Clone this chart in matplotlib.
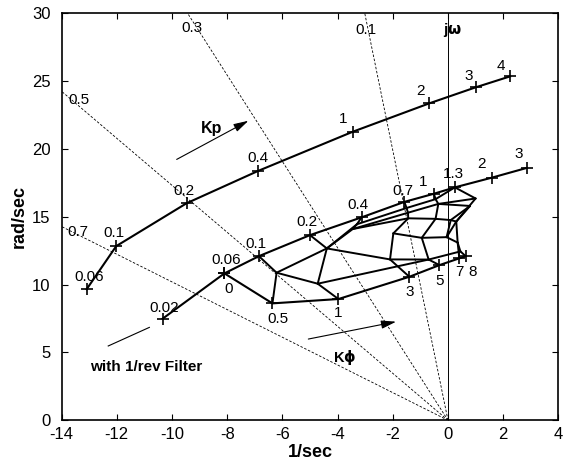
import numpy as np
import matplotlib
matplotlib.use('Agg')
import matplotlib.pyplot as plt

plt.rcParams['font.family'] = ['Liberation Sans', 'DejaVu Sans']
plt.rcParams['axes.unicode_minus'] = False

# constant damping ratio lines
zeta = [0.1, 0.3, 0.5, 0.7]
zeta_lbl_x = [-2.97, -9.29, -13.37, -13.4]
zeta_lbl_y = [28.8, 28.9, 23.6, 13.9]

# upper locus (Kp), no filter
kp1 = ['0.06', '0.1', '0.2', '0.4', '1', '2', '3', '4']
kp1_x = [-13.09, -12.02, -9.47, -6.87, -3.45, -0.68, 1.0, 2.25]
kp1_y = [9.67, 12.84, 16.0, 18.39, 21.27, 23.36, 24.54, 25.35]
kp1_lx = [-13.0, -12.1, -9.55, -6.9, -3.8, -1.0, 0.75, 1.9]
kp1_ly = [10.6, 13.8, 16.9, 19.3, 22.2, 24.3, 25.4, 26.1]

# lower locus (Kp), with 1/rev filter, Kphi = 0
kp2 = ['0.02', '0.06', '0.1', '0.2', '0.4', '0.7', '1', '1.3', '2', '3']
kp2_x = [-10.34, -8.1, -6.85, -5.0, -3.13, -1.58, -0.51, 0.25, 1.58, 2.85]
kp2_y = [7.49, 10.83, 12.1, 13.65, 14.96, 16.1, 16.7, 17.17, 17.88, 18.6]
kp2_lx = [-10.3, -8.05, -6.95, -5.1, -3.25, -1.65, -0.9, 0.2, 1.2, 2.55]
kp2_ly = [8.3, 11.8, 13.0, 14.6, 15.9, 16.9, 17.6, 18.15, 18.9, 19.6]

# Kphi sweep at Kp = 0.06
kphi = ['0', '0.5', '1', '3', '5', '7', '8']
kphi_x = [-8.1, -6.36, -3.97, -1.4, -0.31, 0.41, 0.64]
kphi_y = [10.83, 8.62, 8.94, 10.58, 11.44, 11.94, 12.1]
kphi_lx = [-7.95, -6.15, -3.97, -1.4, -0.31, 0.43, 0.9]
kphi_ly = [9.7, 7.45, 7.9, 9.45, 10.3, 10.9, 10.9]

# interior mesh nodes (Kp x Kphi carpet)
mesh_x = [-6.21, -4.39, -4.72, -2.1, -1.98, -0.95, -0.7, -0.05,
          1.0, 0.3, 0.35,
          -3.3, -1.5, -0.45, -3.45, -1.45, -0.35, 0.8, 0.45,
          -1.44, -0.45, 0.1]
mesh_y = [10.88, 12.67, 10.07, 11.86, 13.78, 13.45, 11.85, 13.5,
          16.35, 14.65, 13.1,
          14.45, 15.65, 16.3, 14.1, 15.3, 15.95, 15.8, 12.45,
          14.89, 14.85, 14.76]
# edges between points; 'T'/'B' = top/bottom boundary points, 'M' = mesh node
mesh_edges = [
    ('T1', 'M0'), ('M0', 'B1'), ('M0', 'M1'), ('M0', 'M2'), ('M1', 'T2'),
    ('M1', 'M2'), ('M2', 'B2'), ('M1', 'M3'), ('M3', 'B3'), ('M3', 'M4'),
    ('M4', 'M5'), ('M5', 'M7'), ('M5', 'M6'), ('M6', 'B4'), ('M3', 'M6'),
    ('M2', 'M6'), ('M6', 'M18'), ('M7', 'M10'), ('M10', 'M18'),
    ('M18', 'B6'), ('M10', 'B5'), ('M7', 'M9'),
    ('M1', 'M11'), ('M11', 'M12'), ('M12', 'M13'), ('M13', 'T6'),
    ('M1', 'M14'), ('M14', 'M15'), ('M15', 'M16'), ('M16', 'M8'),
    ('T6', 'M8'), ('M8', 'M9'), ('M9', 'M10'),
    ('T3', 'M11'), ('M11', 'M14'), ('T4', 'M12'),
    ('M12', 'M15'), ('T5', 'M13'), ('M13', 'M16'),
    ('M16', 'M17'), ('M17', 'M9'),
    ('M14', 'M19'), ('M19', 'M20'), ('M20', 'M21'), ('M21', 'M9'),
    ('M15', 'M19'), ('M19', 'M4'), ('M16', 'M20'), ('M20', 'M5'),
    ('M17', 'M21'), ('M21', 'M7'),
]

fig = plt.figure(figsize=(5.63, 4.66), dpi=100)
ax = fig.add_axes([0.1094, 0.098, 0.8824, 0.8735])

# damping lines
for z, lx, ly in zip(zeta, zeta_lbl_x, zeta_lbl_y):
    t = z / np.sqrt(1 - z ** 2)
    ax.plot([0, -30 * t], [0, 30], 'k--', lw=0.6, dashes=(3, 2))
    ax.text(lx, ly, str(z), fontsize=11, ha='center', va='center')
ax.plot([0, 0], [0, 30], 'k-', lw=0.7)
ax.text(0.15, 28.8, r'j$\mathbf{\omega}$', fontsize=11, fontweight='bold',
        ha='center', va='center')


def pt(name):
    k = int(name[1:])
    if name[0] == 'T':
        return kp2_x[k + 1], kp2_y[k + 1]
    if name[0] == 'B':
        return kphi_x[k], kphi_y[k]
    return mesh_x[k], mesh_y[k]


for a, b in mesh_edges:
    (x0, y0), (x1, y1) = pt(a), pt(b)
    ax.plot([x0, x1], [y0, y1], 'k-', lw=1.4, solid_capstyle='round')

# loci
ax.plot(kp1_x, kp1_y, 'k-', lw=1.5, marker='+', ms=8, mew=1.2)
ax.plot(kp2_x, kp2_y, 'k-', lw=1.5, marker='+', ms=8, mew=1.2)
ax.plot(kphi_x, kphi_y, 'k-', lw=1.5, marker='+', ms=8, mew=1.2)

for s, x, y in zip(kp1, kp1_lx, kp1_ly):
    ax.text(x, y, s, fontsize=11, ha='center', va='center')
for s, x, y in zip(kp2, kp2_lx, kp2_ly):
    ax.text(x, y, s, fontsize=11, ha='center', va='center')
for s, x, y in zip(kphi, kphi_lx, kphi_ly):
    ax.text(x, y, s, fontsize=11, ha='center', va='center')

# arrows and notes
ax.annotate('', xy=(-7.23, 22.08), xytext=(-9.83, 19.23),
            arrowprops=dict(arrowstyle='-|>,head_length=0.9,head_width=0.25',
                            color='k', lw=0.8, shrinkA=0, shrinkB=0))
ax.text(-8.56, 21.5, 'Kp', fontsize=11.5, fontweight='bold', ha='center', va='center')
ax.annotate('', xy=(-1.88, 7.27), xytext=(-5.06, 5.99),
            arrowprops=dict(arrowstyle='-|>,head_length=0.9,head_width=0.25',
                            color='k', lw=0.8, shrinkA=0, shrinkB=0))
ax.text(-3.73, 4.64, r'K$\mathbf{\phi}$', fontsize=10.5, fontweight='bold',
        ha='center', va='center')
ax.plot([-12.31, -10.82], [5.48, 6.85], 'k-', lw=0.8)
ax.text(-10.94, 3.9, 'with 1/rev Filter', fontsize=11, fontweight='bold',
        ha='center', va='center')

ax.set_xlim(-14, 4)
ax.set_ylim(0, 30)
ax.set_xticks(np.arange(-14, 5, 2))
ax.set_yticks(np.arange(0, 31, 5))
ax.tick_params(direction='in', top=True, right=True, labelsize=12, length=4)
ax.tick_params(axis='x', pad=5)
ax.tick_params(axis='y', pad=8)
ax.set_xlabel('1/sec', fontsize=13, fontweight='bold', labelpad=1)
ax.set_ylabel('rad/sec', fontsize=13, fontweight='bold', labelpad=3)
for sp in ax.spines.values():
    sp.set_linewidth(1.2)

fig.savefig('out.png', dpi=100)
